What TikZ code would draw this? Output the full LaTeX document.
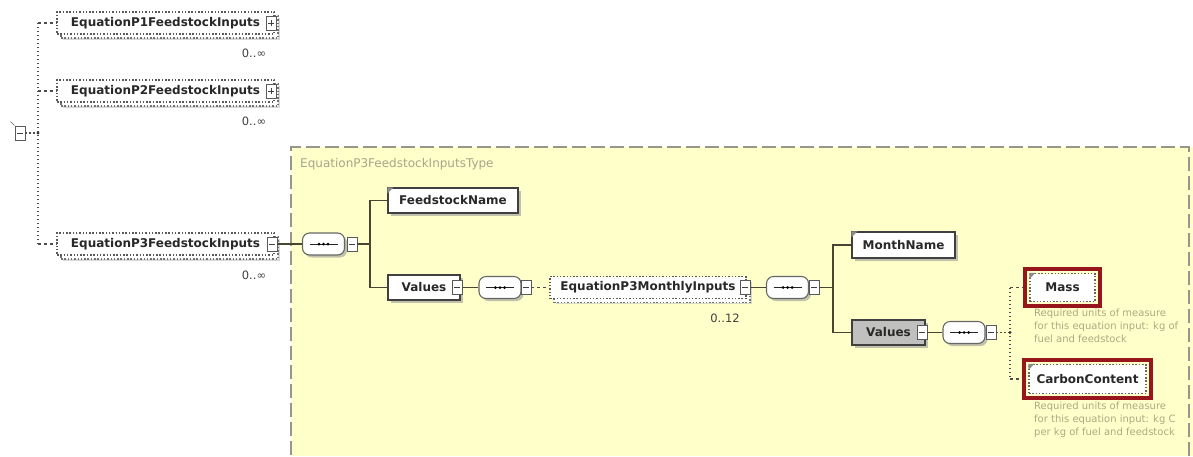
\documentclass[tikz,border=0pt]{standalone}
\usepackage{fontspec}
\usetikzlibrary{shadows}
\newfontfamily\myElFamily{DejaVu Sans}
\newfontfamily\myTyFamily{DejaVu Sans}
\newfontfamily\myNtFamily{DejaVu Sans}
\newcommand\myElFont{\myElFamily\bfseries\fontsize{12}{14}\selectfont}
\newcommand\myTyFont{\myTyFamily\fontsize{12}{14}\selectfont}
\newcommand\myNtFont{\myNtFamily\fontsize{10}{12.6}\selectfont}
\newcommand\myOcFont{\myElFamily\fontsize{11.5}{13}\selectfont}
\definecolor{ybg}{RGB}{255,255,202}
\definecolor{tyborder}{RGB}{150,150,140}
\definecolor{tytext}{RGB}{165,165,140}
\definecolor{nttext}{RGB}{170,170,130}
\definecolor{redbox}{RGB}{150,22,28}
\definecolor{grayfill}{RGB}{192,192,190}
\definecolor{eltext}{RGB}{40,40,40}
\definecolor{lineclr}{RGB}{70,70,50}
\begin{document}
\begin{tikzpicture}[x=1pt,y=-1pt,
  shad/.style={drop shadow={shadow xshift=2.5pt,shadow yshift=-2.5pt,fill=black!40,opacity=.6}},
  simple/.style={draw=black!75, line width=1.2pt, fill=white, font=\myElFont, text=eltext, inner sep=0pt, shad},
  multifront/.style={draw=black!65, line width=1.2pt, dash pattern=on 1.5pt off 1.8pt, fill=white, font=\myElFont, text=eltext, inner sep=0pt},
  multiback/.style={draw=black!55, line width=1.2pt, dash pattern=on 1.5pt off 1.8pt, fill=white, inner sep=0pt, drop shadow={shadow xshift=1.5pt,shadow yshift=-1.5pt,fill=black!25,opacity=.6}},
  optinner/.style={draw=black!60, line width=1.1pt, dash pattern=on 1.5pt off 1.8pt, fill=white, font=\myElFont, text=eltext, inner sep=0pt},
  redframe/.style={draw=redbox, line width=4pt, inner sep=0pt},
  occ/.style={font=\myOcFont, text=black!75, inner sep=0pt},
  note/.style={font=\myNtFont, text=nttext, inner sep=0pt, align=left, anchor=north west},
  conn/.style={draw=lineclr, line width=1.1pt},
  dotconn/.style={draw=black!70, line width=1.3pt, dash pattern=on 1.4pt off 2.6pt},
  dashconn/.style={draw=black!70, line width=1.2pt, dash pattern=on 3pt off 3pt},
  minusbox/.style={draw=black!65, line width=0.9pt, fill=white, minimum width=10pt, minimum height=14pt, inner sep=0pt,
    path picture={\draw[black!75, line width=0.9pt] ([xshift=-3pt]path picture bounding box.center) -- ([xshift=3pt]path picture bounding box.center);}},
  plusbox/.style={minusbox,
    path picture={\draw[black!75, line width=0.9pt] ([xshift=-3pt]path picture bounding box.center) -- ([xshift=3pt]path picture bounding box.center);
      \draw[black!75, line width=0.9pt] ([yshift=-3pt]path picture bounding box.center) -- ([yshift=3pt]path picture bounding box.center);}},
  seqsym/.style={draw=black!60, line width=1.1pt, fill=white, rounded corners=7pt, minimum width=42pt, minimum height=22pt, inner sep=0pt, shad,
    path picture={\draw[black!85, line width=0.9pt] ([xshift=-14pt]path picture bounding box.center) -- ([xshift=14pt]path picture bounding box.center);
      \foreach \d in {-4.5,0,4.5}{\fill[black] ([xshift=\d pt]path picture bounding box.center) circle (1.5pt);}}},
  marker/.style={fill=black!45},
  typelabel/.style={font=\myTyFont, text=tytext, inner sep=0pt, anchor=west}
]
\useasboundingbox (0,0) rectangle (1193,456);
\fill[white] (0,0) rectangle (1193,456);

% complex type region
\fill[ybg] (291,147) rectangle (1193,456);
\draw[tyborder, line width=1.2pt, dash pattern=on 14pt off 5pt] (1189,456) -- (1189,147) -- (291,147) -- (291,456);
\node[typelabel] (tlabel) at (300,164) {EquationP3FeedstockInputsType};

% root choice symbol
\node[draw=black!65, line width=0.9pt, fill=white, minimum width=10pt, minimum height=14pt, inner sep=0pt,
  path picture={\draw[black!75] ([xshift=-3pt]path picture bounding box.center) -- ([xshift=3pt]path picture bounding box.center);}] (root) at (20,133) {};
\coordinate (rj) at (38,133);
\coordinate (t1) at (38,23);
\coordinate (t2) at (38,91);
\coordinate (t3) at (38,244);
\draw[black!60] (root.north west) -- ++(-4,-4);
\draw[dotconn] (t1) -- (t3);
\draw[dotconn] (root.east) -- (rj);
\fill[black!80] (rj) circle (1.6pt);

% P1
\node[multiback, minimum width=217pt, minimum height=22pt] (p1b) at (169.5,27) {};
\node[multifront, minimum width=217pt, minimum height=22pt] (p1) at (165.5,23) {EquationP1FeedstockInputs\hspace{7pt}};
\node[plusbox] (p1x) at (271,23) {};
\draw[dashconn] (t1) -- (p1.west);
\node[occ] (p1o) at (254,53) {0..∞};

% P2
\node[multiback, minimum width=217pt, minimum height=22pt] (p2b) at (169.5,95) {};
\node[multifront, minimum width=217pt, minimum height=22pt] (p2) at (165.5,91) {EquationP2FeedstockInputs\hspace{7pt}};
\node[plusbox] (p2x) at (271,91) {};
\draw[dashconn] (t2) -- (p2.west);
\node[occ] (p2o) at (254,121) {0..∞};

% P3
\node[multiback, minimum width=217pt, minimum height=22pt] (p3b) at (169.5,248) {};
\node[multifront, minimum width=217pt, minimum height=22pt] (p3) at (165.5,244) {EquationP3FeedstockInputs\hspace{7pt}};
\node[minusbox] (p3x) at (272,244) {};
\draw[dashconn] (t3) -- (p3.west);
\node[occ] (p3o) at (254,275) {0..∞};

% sequence 1
\node[seqsym] (s1) at (323.5,244) {};
\node[minusbox] (s1x) at (352,244) {};
\draw[conn] (p3x.east) -- (s1.west);
\coordinate (j1) at (370,244);
\draw[conn] (s1x.east) -- (j1);

\node[simple, minimum width=130pt, minimum height=25pt] (fsn) at (453,200.5) {FeedstockName};
\fill[marker] (fsn.north west) -- ++(6,0) -- ++(-6,6) -- cycle;
\node[simple, minimum width=72pt, minimum height=25pt] (val1) at (424,287.5) {Values\hspace{12pt}};
\node[minusbox] (v1x) at (457,287.5) {};
\draw[conn] (fsn.west) -| (j1) |- (val1.west);

% sequence 2
\node[seqsym] (s2) at (500,287.5) {};
\node[minusbox] (s2x) at (526,287.5) {};
\draw[conn] (v1x.east) -- (s2.west);

% monthly inputs
\node[multiback, minimum width=196pt, minimum height=22pt] (monb) at (652,291.5) {};
\node[multifront, minimum width=196pt, minimum height=22pt] (mon) at (648,287.5) {EquationP3MonthlyInputs\hspace{8pt}};
\node[minusbox] (monx) at (745,287.5) {};
\draw[dashconn] (s2x.east) -- (mon.west);
\node[occ] (mono) at (725,318) {0..12};

% sequence 3
\node[seqsym] (s3) at (787.5,287.5) {};
\node[minusbox] (s3x) at (814,287.5) {};
\draw[conn] (monx.east) -- (s3.west);
\coordinate (j2) at (833,287.5);
\draw[conn] (s3x.east) -- (j2);

\node[simple, minimum width=103pt, minimum height=26pt] (mn) at (903.5,245) {MonthName};
\fill[marker] (mn.north west) -- ++(6,0) -- ++(-6,6) -- cycle;
\node[simple, fill=grayfill, minimum width=73pt, minimum height=25pt] (val2) at (888.5,332.5) {Values\hspace{12pt}};
\node[minusbox] (v2x) at (922,332.5) {};
\draw[conn] (mn.west) -| (j2) |- (val2.west);

% sequence 4
\node[seqsym] (s4) at (964,332.5) {};
\node[minusbox] (s4x) at (991,332.5) {};
\draw[conn] (v2x.east) -- (s4.west);
\coordinate (j3) at (1010,332.5);
\coordinate (k1) at (1010,287.5);
\coordinate (k2) at (1010,379);
\draw[dotconn] (s4x.east) -- (j3);
\draw[dotconn] (k1) -- (k2);
\fill[black!80] (j3) circle (1.6pt);

% Mass
\node[redframe, minimum width=75pt, minimum height=37pt] (massr) at (1062.5,287.5) {};
\node[optinner, minimum width=65pt, minimum height=28pt] (mass) at (1062.5,287.5) {Mass\hspace{8pt}};
\fill[marker] (mass.north west) -- ++(6,0) -- ++(-6,6) -- cycle;
\draw[dashconn] (k1) -- (massr.west);
\node[note] (massn) at (1034,309) {Required units of measure\\for this equation input: kg of\\fuel and feedstock};

% CarbonContent
\node[redframe, minimum width=127pt, minimum height=38pt] (ccr) at (1087.5,379) {};
\node[optinner, minimum width=117pt, minimum height=29pt] (cc) at (1087.5,379) {CarbonContent};
\fill[marker] (cc.north west) -- ++(6,0) -- ++(-6,6) -- cycle;
\draw[dashconn] (k2) -- (ccr.west);
\node[note] (ccn) at (1034,402) {Required units of measure\\for this equation input: kg C\\per kg of fuel and feedstock};
\end{tikzpicture}
\end{document}
